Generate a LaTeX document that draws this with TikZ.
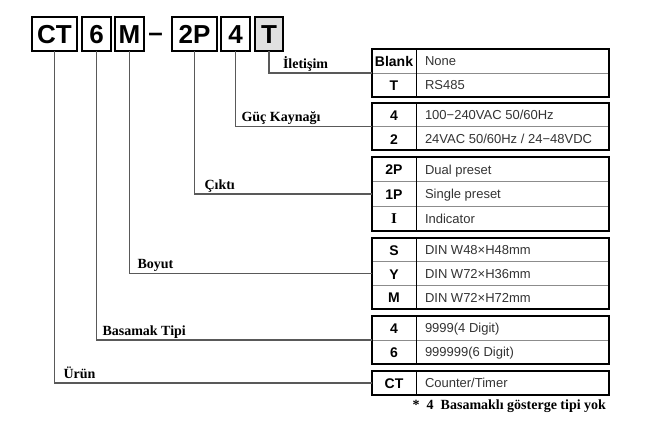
\documentclass[tikz,border=0pt]{standalone}
\usepackage{fontspec}
\setmainfont{Liberation Serif}
\setsansfont{Liberation Sans}
\usepackage{tikz}
\usetikzlibrary{positioning}
\usetikzlibrary{calc}

\begin{document}
\begin{tikzpicture}[x=1pt, y=-1pt]
                % part code on top, option tables on the right
                \tikzstyle{every node}=[inner sep=0pt, outer sep=0pt]
                \tikzstyle{codebox}=[draw=black, line width=1.6pt, minimum height=34pt, text height=18.6pt, text depth=0pt, font=\sffamily\bfseries\fontsize{26}{26}\selectfont]
                \tikzstyle{optable}=[minimum width=237pt]
                \tikzstyle{frame}=[draw=black, line width=1.8pt]
                \tikzstyle{grid}=[draw=black!45, line width=0.8pt]
                \tikzstyle{code}=[text height=10pt, text depth=0pt, font=\sffamily\bfseries\fontsize{14}{14}\selectfont]
                \tikzstyle{desc}=[anchor=west, text=black!80, text height=9.3pt, text depth=0pt, font=\sffamily\fontsize{13}{13}\selectfont]
                \tikzstyle{lbl}=[anchor=base west, font=\bfseries\fontsize{14}{14}\selectfont]
                \tikzstyle{link}=[draw=black!65, line width=1.1pt]
                \useasboundingbox (0,0) rectangle (648,440);

                \node[codebox, minimum width=45pt] (ct) at (54.5,34) {CT};
                \node[codebox, minimum width=29pt] (dig) at (96.5,34) {6};
                \node[codebox, minimum width=29pt] (size) at (129.5,34) {M};
                \node[text height=18.6pt, text depth=0pt, font=\sffamily\bfseries\fontsize{26}{26}\selectfont] (dash) at (155.5,32) {--};
                \node[codebox, minimum width=45pt] (out) at (194.5,34) {2P};
                \node[codebox, minimum width=29pt] (pwr) at (235.5,34) {4};
                \node[codebox, minimum width=28pt, fill=black!12] (com) at (269,34) {T};

                % tables
                \foreach \name/\yc/\h in {tcom/73/48, tpwr/126.5/47, tout/194/74, tsize/273.5/71, tdig/340/48, tprod/383/24}
                        \node[optable, minimum height=\h pt] (\name) at (490.5,\yc) {};
                \draw[grid] (tcom.west) -- (tcom.east);
                \draw[grid] (tpwr.west) -- (tpwr.east);
                \draw[grid] (tdig.west) -- (tdig.east);
                \draw[grid] ($(tout.north west)!1/3!(tout.south west)$) -- ($(tout.north east)!1/3!(tout.south east)$);
                \draw[grid] ($(tout.north west)!2/3!(tout.south west)$) -- ($(tout.north east)!2/3!(tout.south east)$);
                \draw[grid] ($(tsize.north west)!1/3!(tsize.south west)$) -- ($(tsize.north east)!1/3!(tsize.south east)$);
                \draw[grid] ($(tsize.north west)!2/3!(tsize.south west)$) -- ($(tsize.north east)!2/3!(tsize.south east)$);
                \foreach \name in {tcom, tpwr, tout, tsize, tdig, tprod} {
                        \draw[draw=black, line width=1pt] ([xshift=44pt]\name.north west) -- ([xshift=44pt]\name.south west);
                        \draw[frame] (\name.north west) rectangle (\name.south east);
                }

                \node[code] (c1) at (394,61) {Blank};   \node[desc] (d1) at (425,61) {None};
                \node[code] (c2) at (394,85) {T};       \node[desc] (d2) at (425,85) {RS485};
                \node[code] (c3) at (394,115) {4};      \node[desc] (d3) at (425,115) {100−240VAC 50/60Hz};
                \node[code] (c4) at (394,139) {2};      \node[desc] (d4) at (425,139) {24VAC 50/60Hz / 24−48VDC};
                \node[code] (c5) at (394,169.5) {2P};   \node[desc] (d5) at (425,169.5) {Dual preset};
                \node[code] (c6) at (394,194) {1P};     \node[desc] (d6) at (425,194) {Single preset};
                \node[code, font=\rmfamily\bfseries\fontsize{15}{15}\selectfont] (c7) at (394,218.5) {I};
                                                        \node[desc] (d7) at (425,218.5) {Indicator};
                \node[code] (c8) at (394,250) {S};      \node[desc] (d8) at (425,250) {DIN W48×H48mm};
                \node[code] (c9) at (394,274) {Y};      \node[desc] (d9) at (425,274) {DIN W72×H36mm};
                \node[code] (c10) at (394,297.5) {M};   \node[desc] (d10) at (425,297.5) {DIN W72×H72mm};
                \node[code] (c11) at (394,328) {4};     \node[desc] (d11) at (425,328) {9999(4 Digit)};
                \node[code] (c12) at (394,352) {6};     \node[desc] (d12) at (425,352) {999999(6 Digit)};
                \node[code] (c13) at (394,383) {CT};    \node[desc] (d13) at (425,383) {Counter/Timer};

                % connectors
                \draw[link] (com.south) |- (tcom.west);
                \draw[link] (pwr.south) |- (tpwr.west);
                \draw[link] (out.south) |- (tout.west);
                \draw[link] (size.south) |- (tsize.west);
                \draw[link] (dig.south) |- (tdig.west);
                \draw[link] (ct.south) |- (tprod.west);

                \node[lbl] (lcom) at ([xshift=14pt, yshift=5pt]com.south |- tcom.west) {İletişim};
                \node[lbl] (lpwr) at ([xshift=6pt, yshift=5pt]pwr.south |- tpwr.west) {Güç Kaynağı};
                \node[lbl] (lout) at ([xshift=10pt, yshift=5pt]out.south |- tout.west) {Çıktı};
                \node[lbl] (lsize) at ([xshift=8pt, yshift=5pt]size.south |- tsize.west) {Boyut};
                \node[lbl] (ldig) at ([xshift=6pt, yshift=5pt]dig.south |- tdig.west) {Basamak Tipi};
                \node[lbl] (lct) at ([xshift=9pt, yshift=5pt]ct.south |- tprod.west) {Ürün};

                \node[anchor=north east, font=\bfseries\fontsize{14}{14}\selectfont] (note) at ([xshift=-3pt, yshift=-5pt]tprod.south east) {*\ \ 4\ \ Basamaklı gösterge tipi yok};
\end{tikzpicture}
\end{document}
